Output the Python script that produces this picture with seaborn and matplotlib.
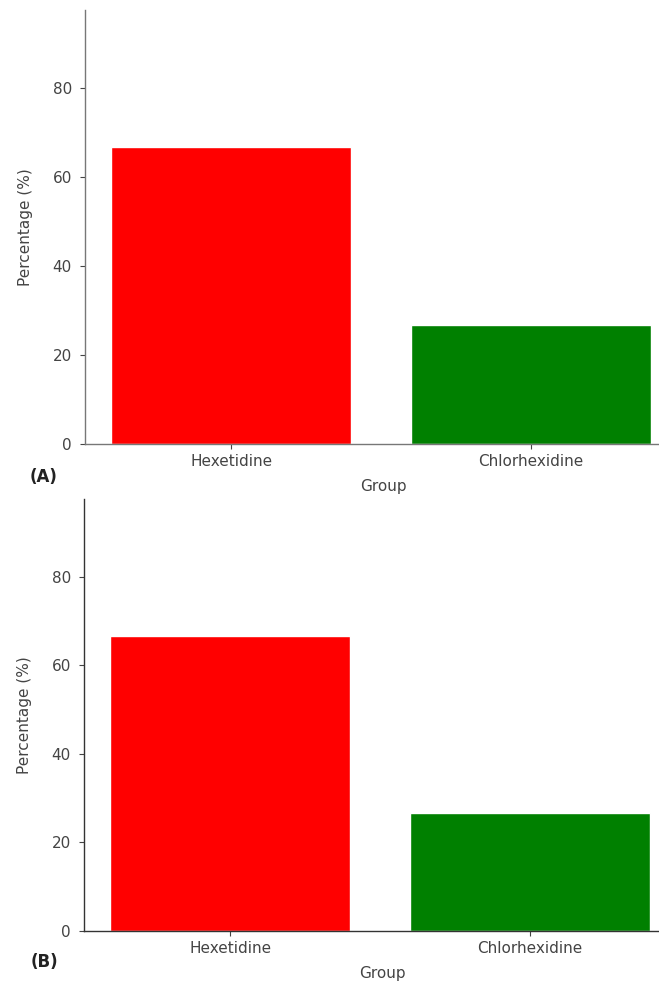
import matplotlib
matplotlib.use("Agg")
import matplotlib.pyplot as plt
import seaborn as sns
import pandas as pd

groups = ["Hexetidine", "Chlorhexidine"]
values_a = [66.7, 26.7]
values_b = [66.7, 26.7]
bar_colors = ["#ff0000", "#008000"]
panel_labels = ["(A)", "(B)"]

sns.set_theme(style="ticks")
plt.rcParams['font.family'] = ['DejaVu Sans']

W, H = 659, 983
fig = plt.figure(figsize=(W / 100, H / 100), dpi=100)

def px_axes(left, top, right, bottom):
    return fig.add_axes([left / W, 1 - bottom / H, (right - left) / W, (bottom - top) / H])

panels = [
    (values_a, (85, 10, 681, 444), (44, 477), "#777777"),
    (values_b, (84, 499, 680, 931), (44, 962), "#333333"),
]

for (vals, box, lab_xy, spine_col), lab in zip(panels, panel_labels):
    ax = px_axes(*box)
    df = pd.DataFrame({"Group": groups, "Percentage (%)": vals})
    sns.barplot(data=df, x="Group", y="Percentage (%)", hue="Group",
                palette=bar_colors, legend=False, ax=ax, width=0.8,
                saturation=1)
    ax.set_xlim(-0.487, 1.5)
    ax.set_ylim(0, 97.6)
    ax.set_yticks([0, 20, 40, 60, 80])
    sns.despine(ax=ax)
    for s in ["left", "bottom"]:
        ax.spines[s].set_color(spine_col)
        ax.spines[s].set_linewidth(1.0)
    ax.tick_params(axis="y", colors="#444444", labelsize=11, length=3.5, width=0.8, pad=6)
    ax.tick_params(axis="x", colors="#444444", labelsize=11, length=3.5, width=0.8, pad=4)
    ax.set_xlabel("Group", fontsize=11, color="#444444", labelpad=7)
    ax.set_ylabel("Percentage (%)", fontsize=11, color="#444444", labelpad=14)
    fig.text(lab_xy[0] / W, 1 - lab_xy[1] / H, lab, ha="center", va="center",
             fontsize=12, fontweight="bold", color="#222222")

fig.savefig("out.png", dpi=100)
